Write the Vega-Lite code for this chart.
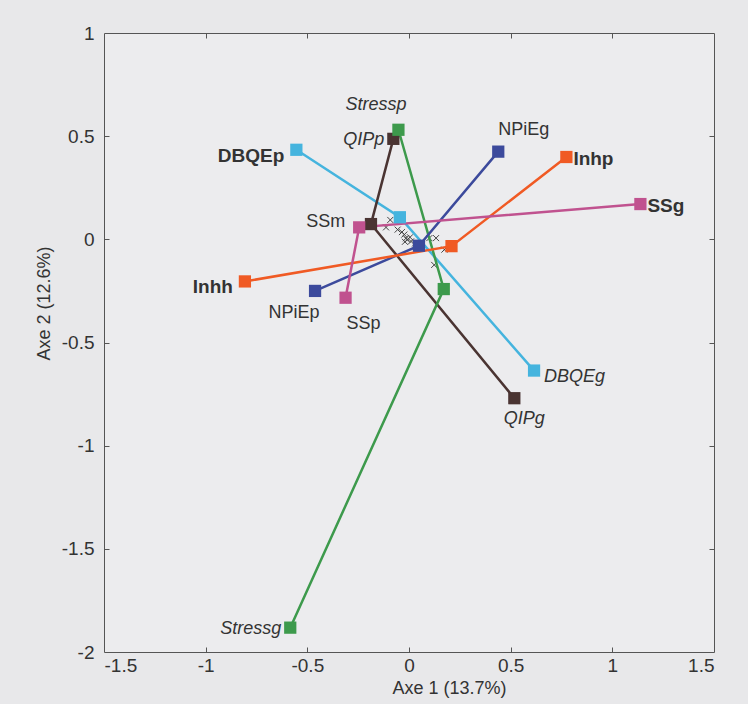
{
  "$schema": "https://vega.github.io/schema/vega-lite/v6.json",
  "autosize": "none",
  "width": 610,
  "height": 619,
  "padding": {"left": 104, "top": 33, "right": 34, "bottom": 52},
  "background": "#e8e8ea",
  "config": {
    "view": {"stroke": "#555555", "strokeWidth": 1, "fill": "#ececee"},
    "axis": {"labelFont": "Liberation Sans", "titleFont": "Liberation Sans", "labelColor": "#333333", "titleColor": "#333333", "tickColor": "#555555", "domain": false, "grid": false, "titleFontWeight": "normal"},
    "text": {"font": "Liberation Sans", "fontSize": 18, "fill": "#333333"}
  },
  "datasets": {
    "pts": [
      {"name": "DBQEp", "group": "DBQE", "ord": 1, "x": -0.554, "y": 0.434},
      {"name": "DBQEm", "group": "DBQE", "ord": 2, "x": -0.045, "y": 0.107},
      {"name": "DBQEg", "group": "DBQE", "ord": 3, "x": 0.615, "y": -0.636},
      {"name": "QIPp", "group": "QIP", "ord": 1, "x": -0.077, "y": 0.487},
      {"name": "QIPm", "group": "QIP", "ord": 2, "x": -0.187, "y": 0.074},
      {"name": "QIPg", "group": "QIP", "ord": 3, "x": 0.518, "y": -0.770},
      {"name": "Stressp", "group": "Stress", "ord": 1, "x": -0.052, "y": 0.531},
      {"name": "Stressm", "group": "Stress", "ord": 2, "x": 0.171, "y": -0.241},
      {"name": "Stressg", "group": "Stress", "ord": 3, "x": -0.584, "y": -1.882},
      {"name": "NPiEg", "group": "NPiE", "ord": 1, "x": 0.439, "y": 0.425},
      {"name": "NPiEm", "group": "NPiE", "ord": 2, "x": 0.049, "y": -0.031},
      {"name": "NPiEp", "group": "NPiE", "ord": 3, "x": -0.462, "y": -0.250},
      {"name": "Inhp", "group": "Inh", "ord": 1, "x": 0.774, "y": 0.399},
      {"name": "Inhm", "group": "Inh", "ord": 2, "x": 0.209, "y": -0.033},
      {"name": "Inhh", "group": "Inh", "ord": 3, "x": -0.807, "y": -0.204},
      {"name": "SSg", "group": "SS", "ord": 1, "x": 1.138, "y": 0.171},
      {"name": "SSm", "group": "SS", "ord": 2, "x": -0.245, "y": 0.058},
      {"name": "SSp", "group": "SS", "ord": 3, "x": -0.312, "y": -0.283}
    ],
    "ind": [
      {"x": -0.092, "y": 0.094},
      {"x": -0.113, "y": 0.058},
      {"x": -0.056, "y": 0.047},
      {"x": -0.035, "y": 0.035},
      {"x": -0.023, "y": 0.023},
      {"x": -0.015, "y": 0.005},
      {"x": -0.008, "y": -0.002},
      {"x": 0.005, "y": 0.010},
      {"x": 0.010, "y": -0.010},
      {"x": -0.020, "y": -0.012},
      {"x": 0.100, "y": 0.006},
      {"x": 0.133, "y": 0.006},
      {"x": 0.174, "y": -0.050},
      {"x": 0.124, "y": -0.124},
      {"x": 0.030, "y": -0.020}
    ]
  },
  "resolve": {"axis": {"x": "independent", "y": "independent"}},
  "layer": [
    {
      "mark": {"type": "rule", "stroke": "#666666", "strokeWidth": 0.8, "strokeDash": [1, 1]},
      "encoding": {
        "x": {"datum": 0, "type": "quantitative", "scale": {"domain": [-1.5, 1.5], "nice": false, "zero": false},
          "axis": {"orient": "top", "labels": false, "title": null, "values": [-1, -0.5, 0, 0.5, 1], "tickSize": 5, "offset": -5}}
      }
    },
    {
      "mark": {"type": "rule", "stroke": "#666666", "strokeWidth": 0.8, "strokeDash": [1, 1]},
      "encoding": {
        "y": {"datum": 0, "type": "quantitative", "scale": {"domain": [-2, 1], "nice": false, "zero": false},
          "axis": {"orient": "right", "labels": false, "title": null, "values": [-1.5, -1, -0.5, 0, 0.5], "tickSize": 5, "offset": -5}}
      }
    },
    {
      "data": {"name": "ind"},
      "mark": {"type": "point", "shape": "M-1,-1L1,1M-1,1L1,-1", "filled": false, "stroke": "#444444", "strokeWidth": 1, "size": 36, "opacity": 1},
      "encoding": {
        "x": {"field": "x", "type": "quantitative", "scale": {"domain": [-1.5, 1.5], "nice": false, "zero": false},
          "axis": {"orient": "bottom", "values": [-1.5, -1, -0.5, 0, 0.5, 1, 1.5], "labelExpr": "'' + datum.value", "ticks": false, "labelFontSize": 19, "labelPadding": 4, "title": "Axe 1 (13.7%)", "titleFontSize": 18, "titlePadding": 4, "titleX": 345}},
        "y": {"field": "y", "type": "quantitative", "scale": {"domain": [-2, 1], "nice": false, "zero": false},
          "axis": {"orient": "left", "values": [-2, -1.5, -1, -0.5, 0, 0.5, 1], "labelExpr": "'' + datum.value", "ticks": false, "labelFontSize": 19, "labelPadding": 10, "title": "Axe 2 (12.6%)", "titleFontSize": 18, "titlePadding": 8, "titleY": 270}}
      }
    },
    {
      "data": {"name": "pts"},
      "mark": {"type": "line", "strokeWidth": 2.5},
      "encoding": {
        "x": {"field": "x", "type": "quantitative",
          "axis": {"orient": "bottom", "labels": false, "title": null, "values": [-1, -0.5, 0, 0.5, 1], "tickSize": 5, "offset": -5}},
        "y": {"field": "y", "type": "quantitative",
          "axis": {"orient": "left", "labels": false, "title": null, "values": [-1.5, -1, -0.5, 0, 0.5], "tickSize": 5, "offset": -5}},
        "detail": {"field": "group"},
        "order": {"field": "ord"},
        "color": {"field": "group", "type": "nominal", "legend": null,
          "scale": {"domain": ["DBQE", "QIP", "Stress", "NPiE", "Inh", "SS"], "range": ["#45b4de", "#4a3432", "#3d9a4c", "#3c4a9c", "#f05a24", "#c0528f"]}}
      }
    },
    {
      "data": {"name": "pts"},
      "mark": {"type": "point", "shape": "square", "filled": true, "size": 150, "opacity": 1},
      "encoding": {
        "x": {"field": "x", "type": "quantitative", "axis": null},
        "y": {"field": "y", "type": "quantitative", "axis": null},
        "color": {"field": "group", "type": "nominal", "legend": null}
      }
    },
    {
      "data": {"name": "pts"},
      "transform": [{"filter": "datum.name == 'DBQEp' || datum.name == 'Inhh'"}],
      "mark": {"type": "text", "fontWeight": "bold", "fontSize": 19, "align": "right", "baseline": "middle", "dx": -12, "dy": 6},
      "encoding": {"x": {"field": "x", "type": "quantitative", "axis": null}, "y": {"field": "y", "type": "quantitative", "axis": null}, "text": {"field": "name"}}
    },
    {
      "data": {"name": "pts"},
      "transform": [{"filter": "datum.name == 'Inhp' || datum.name == 'SSg'"}],
      "mark": {"type": "text", "fontWeight": "bold", "fontSize": 19, "align": "left", "baseline": "middle", "dx": 7, "dy": 2},
      "encoding": {"x": {"field": "x", "type": "quantitative", "axis": null}, "y": {"field": "y", "type": "quantitative", "axis": null}, "text": {"field": "name"}}
    },
    {
      "data": {"name": "pts"},
      "transform": [{"filter": "datum.name == 'NPiEg'"}],
      "mark": {"type": "text", "align": "left", "baseline": "middle", "dx": 0, "dy": -22},
      "encoding": {"x": {"field": "x", "type": "quantitative", "axis": null}, "y": {"field": "y", "type": "quantitative", "axis": null}, "text": {"field": "name"}}
    },
    {
      "data": {"name": "pts"},
      "transform": [{"filter": "datum.name == 'SSm'"}],
      "mark": {"type": "text", "align": "right", "baseline": "middle", "dx": -14, "dy": -5},
      "encoding": {"x": {"field": "x", "type": "quantitative", "axis": null}, "y": {"field": "y", "type": "quantitative", "axis": null}, "text": {"field": "name"}}
    },
    {
      "data": {"name": "pts"},
      "transform": [{"filter": "datum.name == 'NPiEp'"}],
      "mark": {"type": "text", "align": "center", "baseline": "middle", "dx": -21, "dy": 22},
      "encoding": {"x": {"field": "x", "type": "quantitative", "axis": null}, "y": {"field": "y", "type": "quantitative", "axis": null}, "text": {"field": "name"}}
    },
    {
      "data": {"name": "pts"},
      "transform": [{"filter": "datum.name == 'SSp'"}],
      "mark": {"type": "text", "align": "center", "baseline": "middle", "dx": 18, "dy": 26},
      "encoding": {"x": {"field": "x", "type": "quantitative", "axis": null}, "y": {"field": "y", "type": "quantitative", "axis": null}, "text": {"field": "name"}}
    },
    {
      "data": {"name": "pts"},
      "transform": [{"filter": "datum.name == 'Stressp'"}],
      "mark": {"type": "text", "fontStyle": "italic", "align": "right", "baseline": "middle", "dx": 8, "dy": -25},
      "encoding": {"x": {"field": "x", "type": "quantitative", "axis": null}, "y": {"field": "y", "type": "quantitative", "axis": null}, "text": {"field": "name"}}
    },
    {
      "data": {"name": "pts"},
      "transform": [{"filter": "datum.name == 'QIPp' || datum.name == 'Stressg'"}],
      "mark": {"type": "text", "fontStyle": "italic", "align": "right", "baseline": "middle", "dx": -9, "dy": 1},
      "encoding": {"x": {"field": "x", "type": "quantitative", "axis": null}, "y": {"field": "y", "type": "quantitative", "axis": null}, "text": {"field": "name"}}
    },
    {
      "data": {"name": "pts"},
      "transform": [{"filter": "datum.name == 'DBQEg'"}],
      "mark": {"type": "text", "fontStyle": "italic", "align": "left", "baseline": "middle", "dx": 10, "dy": 6},
      "encoding": {"x": {"field": "x", "type": "quantitative", "axis": null}, "y": {"field": "y", "type": "quantitative", "axis": null}, "text": {"field": "name"}}
    },
    {
      "data": {"name": "pts"},
      "transform": [{"filter": "datum.name == 'QIPg'"}],
      "mark": {"type": "text", "fontStyle": "italic", "align": "center", "baseline": "middle", "dx": 10, "dy": 21},
      "encoding": {"x": {"field": "x", "type": "quantitative", "axis": null}, "y": {"field": "y", "type": "quantitative", "axis": null}, "text": {"field": "name"}}
    }
  ]
}
